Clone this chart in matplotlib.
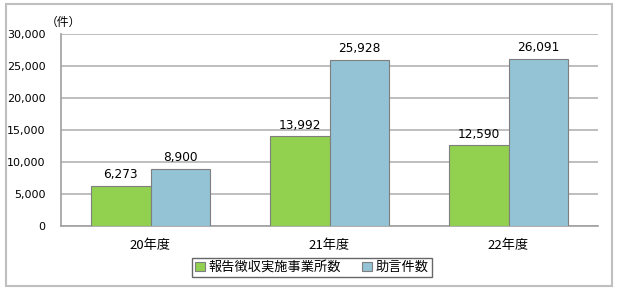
import numpy as np
import matplotlib.pyplot as plt
from matplotlib.patches import Rectangle

plt.rcParams['font.family'] = ['Noto Sans CJK JP', 'DejaVu Sans']

categories = ['20年度', '21年度', '22年度']
offices = [6273, 13992, 12590]
advice = [8900, 25928, 26091]
series_names = ['報告徴収実施事業所数', '助言件数']

W, H = 621, 293
fig = plt.figure(figsize=(W / 100, H / 100), dpi=100)
ax = fig.add_axes([61 / W, 1 - 226 / H, (598 - 61) / W, (226 - 34) / H])

x = np.arange(len(categories))
bw = 0.332
b1 = ax.bar(x - bw / 2, offices, bw, color='#92D050', edgecolor='#7f7f7f', linewidth=0.8,
            label=series_names[0], zorder=3)
b2 = ax.bar(x + bw / 2, advice, bw, color='#93C3D5', edgecolor='#7f7f7f', linewidth=0.8,
            label=series_names[1], zorder=3)

for bars in (b1, b2):
    for r in bars:
        v = r.get_height()
        ax.annotate(f'{v:,.0f}', (r.get_x() + r.get_width() / 2, v), xytext=(0, 3.5),
                    textcoords='offset points', ha='center', va='bottom', fontsize=8.7,
                    family=['DejaVu Sans'])

ax.set_xlim(-0.5, 2.5)
ax.set_ylim(0, 30000)
ax.set_yticks(np.arange(0, 30001, 5000))
ax.set_yticklabels([f'{v:,}' for v in range(0, 30001, 5000)], family=['DejaVu Sans'], fontsize=8)
ax.set_xticks(x)
ax.set_xticklabels(categories, fontsize=9.5)
ax.tick_params(axis='both', length=0)
ax.tick_params(axis='y', pad=11)
ax.tick_params(axis='x', pad=9)
ax.grid(axis='y', color='#b3b3b3', linewidth=1.2, zorder=0)
for s in ['top', 'right']:
    ax.spines[s].set_visible(False)
for s in ['left', 'bottom']:
    ax.spines[s].set_color('#a0a0a0')
    ax.spines[s].set_linewidth(1.2)

fig.text(63 / W, 1 - 22 / H, '（件）', ha='center', va='center', fontsize=8.5)

leg = fig.legend(loc='center', bbox_to_anchor=(312 / W, 1 - 267.5 / H), ncol=2, fontsize=9.5,
                 frameon=True, fancybox=False, handlelength=0.7, handleheight=0.7,
                 handletextpad=0.3, columnspacing=1.6, borderpad=0.25)
leg.get_frame().set_edgecolor('#404040')
leg.get_frame().set_linewidth(1.0)

fig.patches.append(Rectangle((6 / W, 1 - 286 / H), 606 / W, 282 / H, transform=fig.transFigure,
                             fill=False, edgecolor='#bfbfbf', linewidth=1.5))

fig.savefig('out.png', dpi=100)
